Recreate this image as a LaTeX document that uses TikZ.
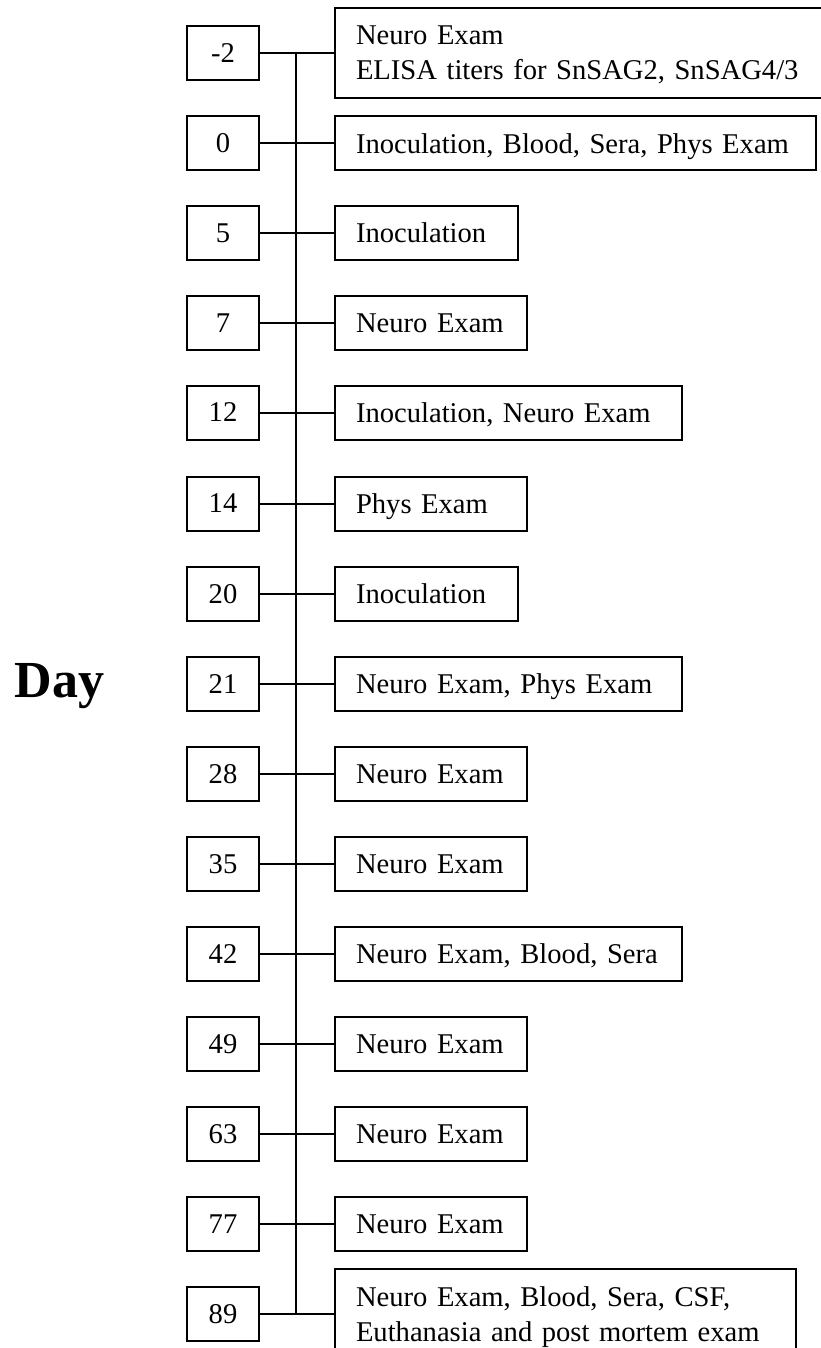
\documentclass[tikz,border=0pt]{standalone}
\usepackage{fontspec}
\setmainfont{Liberation Serif}
\begin{document}
\begin{tikzpicture}[x=1pt,y=-1pt,line width=2pt,
  daybox/.style={draw, minimum width=72pt, minimum height=54pt, inner sep=0pt,
    font=\fontsize{28.6}{35}\selectfont},
  evbox/.style={draw, anchor=west, minimum height=54pt, inner xsep=21pt, inner ysep=0pt,
    align=left, text height=19.5pt, text depth=0pt, text width=#1,
    font=\fontsize{28.6}{35}\selectfont},
  evtwo/.style={draw, anchor=west, minimum height=90pt, inner xsep=21pt, inner ysep=0pt,
    align=left, text height=20pt, text depth=36pt, text width=#1,
    font=\fontsize{28.6}{35}\selectfont},
  link/.style={line width=2pt}]
\useasboundingbox (0,0) rectangle (821,1348);
\clip (0,0) rectangle (821,1348);

\node[font=\fontsize{52}{60}\selectfont\bfseries, anchor=base] (day) at (59.5,697) {Day};

% day boxes
\node[daybox] (dm2) at (223,53) {-2};
\node[daybox] (d0)  at (223,143.5) {0};
\node[daybox] (d5)  at (223,233) {5};
\node[daybox] (d7)  at (223,323) {7};
\node[daybox] (d12) at (223,412.5) {12};
\node[daybox] (d14) at (223,503.5) {14};
\node[daybox] (d20) at (223,594) {20};
\node[daybox] (d21) at (223,684) {21};
\node[daybox] (d28) at (223,774) {28};
\node[daybox] (d35) at (223,864) {35};
\node[daybox] (d42) at (223,954) {42};
\node[daybox] (d49) at (223,1044) {49};
\node[daybox] (d63) at (223,1134) {63};
\node[daybox] (d77) at (223,1224) {77};
\node[daybox] (d89) at (223,1314) {89};

% event boxes
\node[evtwo=474pt] (em2) at (334,53) {\mbox{Neuro Exam}\\\mbox{ELISA titers for SnSAG2, SnSAG4/3}};
\node[evbox=439pt] (e0)  at (334,143.5) {\mbox{Inoculation, Blood, Sera, Phys Exam}};
\node[evbox=141pt] (e5)  at (334,233) {\mbox{Inoculation}};
\node[evbox=150pt] (e7)  at (334,323) {\mbox{Neuro Exam}};
\node[evbox=305pt] (e12) at (334,412.5) {\mbox{Inoculation, Neuro Exam}};
\node[evbox=150pt] (e14) at (334,503.5) {\mbox{Phys Exam}};
\node[evbox=141pt] (e20) at (334,594) {\mbox{Inoculation}};
\node[evbox=305pt] (e21) at (334,684) {\mbox{Neuro Exam, Phys Exam}};
\node[evbox=150pt] (e28) at (334,774) {\mbox{Neuro Exam}};
\node[evbox=150pt] (e35) at (334,864) {\mbox{Neuro Exam}};
\node[evbox=305pt] (e42) at (334,954) {\mbox{Neuro Exam, Blood, Sera}};
\node[evbox=150pt] (e49) at (334,1044) {\mbox{Neuro Exam}};
\node[evbox=150pt] (e63) at (334,1134) {\mbox{Neuro Exam}};
\node[evbox=150pt] (e77) at (334,1224) {\mbox{Neuro Exam}};
\node[evtwo=419pt] (e89) at (334,1314) {\mbox{Neuro Exam, Blood, Sera, CSF,}\\\mbox{Euthanasia and post mortem exam}};

% spine
\coordinate (spT) at (296,53);
\coordinate (spB) at (296,1314);
\draw[link] (spT) -- (spB);

% connectors
\foreach \n in {m2,0,5,7,12,14,20,21,28,35,42,49,63,77,89}
  \draw[link] (d\n.east) -- (e\n.west);
\end{tikzpicture}
\end{document}
